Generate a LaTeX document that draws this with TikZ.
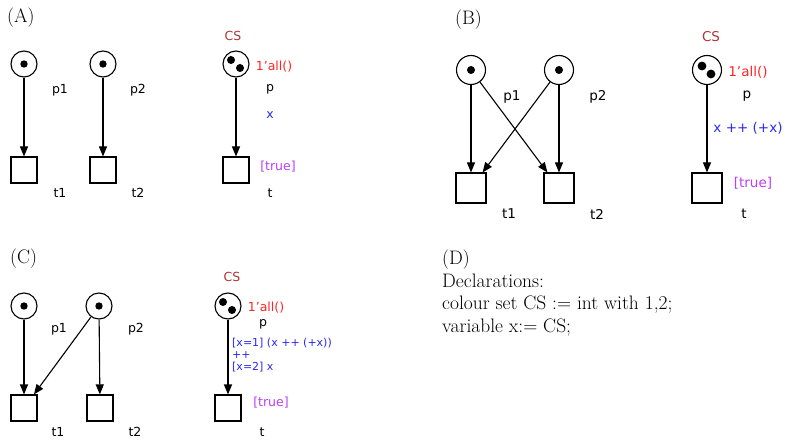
\documentclass[tikz,border=0pt]{standalone}
\usepackage{fontspec}
\usepackage{tikz}
\usetikzlibrary{arrows.meta,positioning}
\newfontfamily\cpnfont{DejaVu Sans}
\definecolor{cpn-type}{HTML}{B03434}
\definecolor{cpn-init}{HTML}{FF2424}
\definecolor{cpn-arc}{HTML}{2A2AF5}
\definecolor{cpn-guard}{HTML}{BE3CFA}

\begin{document}
\begin{tikzpicture}[x=1pt,y=-1pt,
    place/.style={circle, draw, line width=1.1pt, minimum size=26pt, inner sep=0pt},
    trans/.style={rectangle, draw, line width=1.1pt, minimum size=26pt, inner sep=0pt},
    arc/.style={-{Triangle[length=10pt,width=8pt]}, line width=1.1pt},
    lbl/.style={font=\cpnfont\fontsize{12.5}{13}\selectfont},
    big/.style={font=\cpnfont\fontsize{13.5}{14}\selectfont},
    head/.style={font=\fontsize{19.5}{22}\selectfont, anchor=base west, inner sep=0pt}]
    \useasboundingbox (0,0) rectangle (785,441);

    % (A)
    \node[head] (la) at (7,23) {(A)};
    \node[place] (ap1) at (24,64) {};
    \node[place] (ap2) at (103,64) {};
    \node[place] (acs) at (236,64) {};
    \fill (ap1.center) circle (3.7pt);
    \fill (ap2.center) circle (3.7pt);
    \fill ([shift={(-5,-4)}]acs.center) circle (4pt);
    \fill ([shift={(4,4)}]acs.center) circle (4pt);
    \node[trans] (at1) at (24,170) {};
    \node[trans] (at2) at (103,170) {};
    \node[trans] (at) at (236,170) {};
    \draw[arc] (ap1) -- (at1);
    \draw[arc] (ap2) -- (at2);
    \draw[arc] (acs) -- (at);
    \node[lbl] (an1) at (60,90) {p1};
    \node[lbl] (an2) at (138,90) {p2};
    \node[lbl] (an3) at (270,89) {p};
    \node[lbl, cpn-type] (acol) at (233,36) {CS};
    \node[lbl, cpn-init] (aini) at (274,67) {1’all()};
    \node[lbl, cpn-arc] (ainsc) at (270,115) {x};
    \node[lbl, cpn-guard] (agrd) at (278,167) {[true]};
    \node[lbl] (am1) at (60,193) {t1};
    \node[lbl] (am2) at (138,193) {t2};
    \node[lbl] (am3) at (270,193) {t};

    % (B)
    \begin{scope}[place/.append style={minimum size=29pt},
                  trans/.append style={minimum size=30pt}]
    \node[head] (lb) at (455,25) {(B)};
    \node[place] (bp1) at (471,70) {};
    \node[place] (bp2) at (559,70) {};
    \node[place] (bcs) at (707,70) {};
    \fill (bp1.center) circle (4pt);
    \fill (bp2.center) circle (4pt);
    \fill ([shift={(-5,-4)}]bcs.center) circle (4.4pt);
    \fill ([shift={(4,4)}]bcs.center) circle (4.4pt);
    \node[trans] (bt1) at (471,188) {};
    \node[trans] (bt2) at (559,188) {};
    \node[trans] (bt) at (707,188) {};
    \draw[arc] (bp1) -- (bt1);
    \draw[arc] (bp1) -- (bt2);
    \draw[arc] (bp2) -- (bt1);
    \draw[arc] (bp2) -- (bt2);
    \draw[arc] (bcs) -- (bt);
    \node[big] (bn1) at (512,97) {p1};
    \node[big] (bn2) at (598,97) {p2};
    \node[big] (bn3) at (747,96) {p};
    \node[big, cpn-type] (bcol) at (711,37) {CS};
    \node[big, cpn-init] (bini) at (748,72) {1’all()};
    \node[big, cpn-arc] (binsc) at (748,128) {x ++ (+x)};
    \node[big, cpn-guard] (bgrd) at (753,183) {[true]};
    \node[big] (bm1) at (509,214) {t1};
    \node[big] (bm2) at (597,214) {t2};
    \node[big] (bm3) at (744,214) {t};
    \end{scope}

    % (C)
    \node[head] (lc) at (10,263) {(C)};
    \node[place] (cp1) at (24,306) {};
    \node[place] (cp2) at (99,306) {};
    \node[place] (ccs) at (228,306) {};
    \fill (cp1.center) circle (3.7pt);
    \fill (cp2.center) circle (3.7pt);
    \fill ([shift={(-5,-4)}]ccs.center) circle (4pt);
    \fill ([shift={(4,4)}]ccs.center) circle (4pt);
    \node[trans] (ct1) at (24,408) {};
    \node[trans] (ct2) at (100,408) {};
    \node[trans] (ct) at (228,408) {};
    \draw[arc] (cp1) -- (ct1);
    \draw[arc] (cp2) -- (ct1);
    \draw[arc] (cp2) -- (ct2);
    \draw[arc] (ccs) -- (ct);
    \node[lbl] (cn1) at (59,329) {p1};
    \node[lbl] (cn2) at (136,329) {p2};
    \node[lbl] (cn3) at (263,324) {p};
    \node[lbl, cpn-type] (ccol) at (232,277) {CS};
    \node[lbl, cpn-init] (cini) at (266,308) {1’all()};
    \node[lbl, cpn-arc, anchor=north west, align=left, inner sep=0pt,
          font=\cpnfont\fontsize{11}{12}\selectfont] (cinsc) at (232,338)
        {[x=1] (x ++ (+x))\\++\\{}[x=2] x};
    \node[lbl, cpn-guard] (cgrd) at (271,403) {[true]};
    \node[lbl] (cm1) at (58,432) {t1};
    \node[lbl] (cm2) at (135,432) {t2};
    \node[lbl] (cm3) at (262,432) {t};

    % (D)
    \node[head] (d0) at (442,264.5) {(D)};
    \node[head] (d1) at (442,287) {Declarations:};
    \node[head] (d2) at (442,309.5) {colour set CS := int with 1,2;};
    \node[head] (d3) at (442,332) {variable x:= CS;};
\end{tikzpicture}
\end{document}
